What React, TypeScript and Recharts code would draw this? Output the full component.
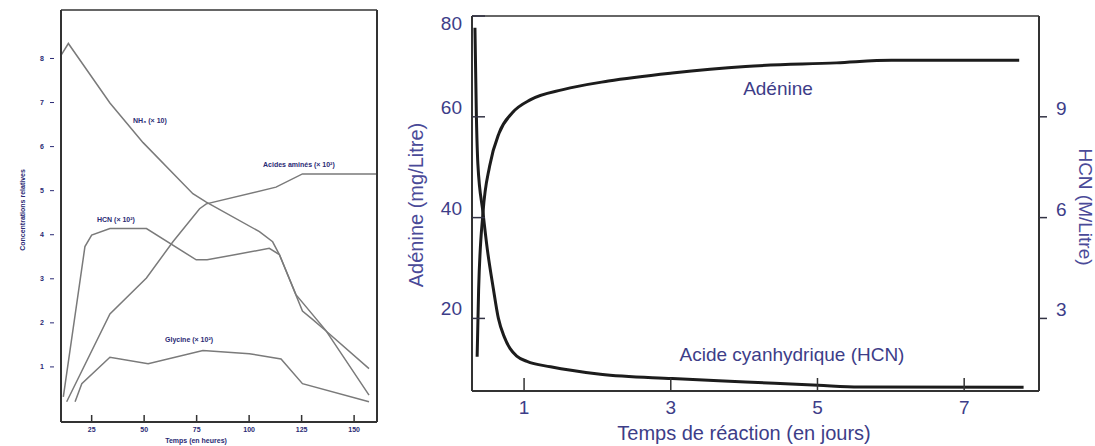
import React from 'react';
import { LineChart, Line, XAxis, YAxis } from 'recharts';

// left panel: relative concentrations vs time (hours)
const hourTicks = [25, 50, 75, 100, 125, 150];
const relTicks = [1, 2, 3, 4, 5, 6, 7, 8];

const nhSeries = [
  { x: 10.4, y: 8.07 }, { x: 13.9, y: 8.34 }, { x: 33.7, y: 6.99 }, { x: 49.5, y: 6.09 },
  { x: 73.2, y: 4.93 }, { x: 79.6, y: 4.74 }, { x: 104.9, y: 4.07 }, { x: 111.2, y: 3.84 },
  { x: 114.4, y: 3.55 }, { x: 122.3, y: 2.64 }, { x: 136.5, y: 1.83 }, { x: 157.1, y: 0.36 },
];
const hcnHourSeries = [
  { x: 11.5, y: 0.32 }, { x: 21.8, y: 3.73 }, { x: 25, y: 3.99 }, { x: 33.7, y: 4.14 },
  { x: 51.1, y: 4.14 }, { x: 74.8, y: 3.43 }, { x: 80, y: 3.43 }, { x: 109.6, y: 3.69 },
  { x: 114.4, y: 3.55 }, { x: 125.4, y: 2.27 }, { x: 130.2, y: 2.08 }, { x: 136.5, y: 1.82 },
  { x: 157.1, y: 0.96 },
];
const aminoSeries = [
  { x: 13.1, y: 0.21 }, { x: 33.7, y: 2.2 }, { x: 51.1, y: 3.02 }, { x: 63.7, y: 3.84 },
  { x: 76.4, y: 4.59 }, { x: 79.6, y: 4.7 }, { x: 112.8, y: 5.08 }, { x: 125.4, y: 5.38 },
  { x: 160.9, y: 5.38 },
];
const glySeries = [
  { x: 17.1, y: 0.21 }, { x: 20.3, y: 0.62 }, { x: 33.7, y: 1.22 }, { x: 51.9, y: 1.07 },
  { x: 78, y: 1.37 }, { x: 100.1, y: 1.3 }, { x: 115.2, y: 1.18 }, { x: 125.4, y: 0.62 },
  { x: 157.1, y: 0.21 },
];

// right panel: adenine (mg/L) and HCN (M/L) vs days
const dayTicks = [1, 3, 5, 7];
const adenineTicks = [20, 40, 60, 80];
const hcnTicks = [3, 6, 9];

const adenine = [
  { d: 0.36, v: 12.4 }, { d: 0.38, v: 25.6 }, { d: 0.44, v: 41 }, { d: 0.53, v: 50.2 },
  { d: 0.66, v: 56.8 }, { d: 0.84, v: 60.8 }, { d: 1.09, v: 63.4 }, { d: 1.53, v: 65.4 },
  { d: 2.15, v: 67.1 }, { d: 3.02, v: 68.7 }, { d: 4.02, v: 70.0 }, { d: 5.26, v: 70.7 },
  { d: 6.01, v: 71.2 }, { d: 7.75, v: 71.2 },
];
const hcn = [
  { d: 0.33, v: 11.65 }, { d: 0.35, v: 9.0 }, { d: 0.37, v: 7.6 }, { d: 0.44, v: 6.15 },
  { d: 0.5, v: 5.04 }, { d: 0.58, v: 3.9 }, { d: 0.65, v: 3.0 }, { d: 0.73, v: 2.45 },
  { d: 0.81, v: 2.1 }, { d: 0.9, v: 1.88 }, { d: 1.04, v: 1.72 }, { d: 1.36, v: 1.56 },
  { d: 2.04, v: 1.34 }, { d: 3.02, v: 1.21 }, { d: 4.02, v: 1.11 }, { d: 5.01, v: 1.01 },
  { d: 5.57, v: 0.96 }, { d: 7.81, v: 0.95 },
];

const NAVY = '#2a2a74';
const BLUE = '#3d3d88';
const SMALL = { fontFamily: 'Liberation Sans, Arial, sans-serif', fontSize: 7, fontWeight: 700, fill: NAVY };
const BIG = { fontFamily: 'Liberation Sans, Arial, sans-serif', fontSize: 19, fill: BLUE };

const HourTick = (props: any) => {
  const { x, y, payload } = props;
  return (
    <g>
      <line x1={x} x2={x} y1={y} y2={y - 7} stroke="#333" strokeWidth={1.5} />
      <text x={x} y={y + 10} textAnchor="middle" {...SMALL}>{payload.value}</text>
    </g>
  );
};

const RelTick = (props: any) => {
  const { x, y, payload } = props;
  return (
    <g>
      <line x1={x - 11} x2={x - 7} y1={y} y2={y} stroke={NAVY} strokeWidth={1} />
      <text x={x - 19} y={y + 2.5} textAnchor="middle" {...SMALL}>{payload.value}</text>
    </g>
  );
};

const DayTick = (props: any) => {
  const { x, y, payload } = props;
  return (
    <g>
      <line x1={x} x2={x} y1={y} y2={y - 13} stroke="#333" strokeWidth={1.5} />
      <text x={x} y={y + 23} textAnchor="middle" {...BIG}>{payload.value}</text>
    </g>
  );
};

const AdenineTick = (props: any) => {
  const { x, y, payload } = props;
  const dy = payload.value === 80 ? 14 : -3;
  return (
    <g>
      <line x1={x} x2={x + 13} y1={y} y2={y} stroke="#334" strokeWidth={1.5} />
      <text x={x - 10} y={y + dy} textAnchor="end" {...BIG}>{payload.value}</text>
    </g>
  );
};

const HcnTick = (props: any) => {
  const { x, y, payload } = props;
  return (
    <g>
      <line x1={x} x2={x + 8} y1={y} y2={y} stroke="#334" strokeWidth={1.5} />
      <text x={x + 17} y={y - 2} textAnchor="start" {...BIG}>{payload.value}</text>
    </g>
  );
};

const App = () => {
  const frame = { stroke: '#333', strokeWidth: 2 };
  return (
    <div style={{ position: 'absolute', left: 0, top: 0, width: 1095, height: 446, background: '#fff' }}>
      <div style={{ position: 'absolute', left: 0, top: 0 }}>
        <LineChart width={380} height={446} margin={{ top: 9, right: 2, left: 0, bottom: 0 }}>
          <XAxis dataKey="x" type="number" domain={[10.4, 160.9]} ticks={hourTicks} allowDataOverflow
            height={24} tickSize={0} tickMargin={0} tickLine={false} axisLine={frame} tick={<HourTick />} />
          <XAxis xAxisId="top" orientation="top" type="number" domain={[10.4, 160.9]} height={1}
            tick={false} tickLine={false} axisLine={{ stroke: '#333', strokeWidth: 1.5 }} />
          <YAxis type="number" domain={[-0.25, 9.1]} ticks={relTicks} allowDataOverflow width={61}
            tickSize={0} tickMargin={0} tickLine={false} axisLine={frame} tick={<RelTick />} />
          <YAxis yAxisId="right" orientation="right" type="number" domain={[-0.25, 9.1]} width={1}
            tick={false} tickLine={false} axisLine={frame} />
          <Line data={nhSeries} dataKey="y" type="linear" stroke="#7a7a7a" strokeWidth={1.5} dot={false} isAnimationActive={false} />
          <Line data={hcnHourSeries} dataKey="y" type="linear" stroke="#7a7a7a" strokeWidth={1.5} dot={false} isAnimationActive={false} />
          <Line data={aminoSeries} dataKey="y" type="linear" stroke="#7a7a7a" strokeWidth={1.5} dot={false} isAnimationActive={false} />
          <Line data={glySeries} dataKey="y" type="linear" stroke="#7a7a7a" strokeWidth={1.5} dot={false} isAnimationActive={false} />
        </LineChart>
      </div>
      <div style={{ position: 'absolute', left: 380, top: 0 }}>
        <LineChart width={715} height={446} margin={{ top: 15, right: 0, left: 0, bottom: 0 }}>
          <XAxis dataKey="d" type="number" domain={[0.29, 8.02]} ticks={dayTicks} allowDataOverflow
            height={55} tickSize={0} tickMargin={0} tickLine={false} axisLine={frame} tick={<DayTick />} />
          <XAxis xAxisId="top" orientation="top" type="number" domain={[0.29, 8.02]} height={1}
            tick={false} tickLine={false} axisLine={{ stroke: '#333', strokeWidth: 1.5 }} />
          <YAxis yAxisId="ade" type="number" domain={[5.6, 80]} ticks={adenineTicks} allowDataOverflow width={92}
            tickSize={0} tickMargin={0} tickLine={false} axisLine={frame} tick={<AdenineTick />} />
          <YAxis yAxisId="hcn" orientation="right" type="number" domain={[0.84, 12]} ticks={hcnTicks} allowDataOverflow width={56}
            tickSize={0} tickMargin={0} tickLine={false} axisLine={frame} tick={<HcnTick />} />
          <Line yAxisId="ade" data={adenine} dataKey="v" type="monotone" stroke="#1c1c1c" strokeWidth={3} dot={false} isAnimationActive={false} />
          <Line yAxisId="hcn" data={hcn} dataKey="v" type="monotone" stroke="#1c1c1c" strokeWidth={3} dot={false} isAnimationActive={false} />
        </LineChart>
      </div>
      <svg width={1095} height={446} style={{ position: 'absolute', left: 0, top: 0, pointerEvents: 'none' }}>
        <text x={25} y={210} textAnchor="middle" transform="rotate(-90 25 210)" {...SMALL}>Concentrations relatives</text>
        <text x={196} y={443} textAnchor="middle" {...SMALL}>Temps (en heures)</text>
        <text x={133} y={123} {...SMALL}>NH₃ (× 10)</text>
        <text x={263} y={167} {...SMALL}>Acides aminés (× 10²)</text>
        <text x={97} y={222} {...SMALL}>HCN (× 10²)</text>
        <text x={165} y={342} {...SMALL}>Glycine (× 10²)</text>

        <text x={744} y={440} textAnchor="middle" {...BIG} fontSize={20}>Temps de réaction (en jours)</text>
        <text x={423} y={205} textAnchor="middle" transform="rotate(-90 423 205)" {...BIG} fontSize={20} fill="#4a4a98">Adénine (mg/Litre)</text>
        <text x={1079} y={207} textAnchor="middle" transform="rotate(90 1079 207)" {...BIG} fill="#4a4a98">HCN (M/Litre)</text>
        <text x={778} y={95} textAnchor="middle" {...BIG}>Adénine</text>
        <text x={792} y={361} textAnchor="middle" {...BIG}>Acide cyanhydrique (HCN)</text>
      </svg>
    </div>
  );
};

export default App;
